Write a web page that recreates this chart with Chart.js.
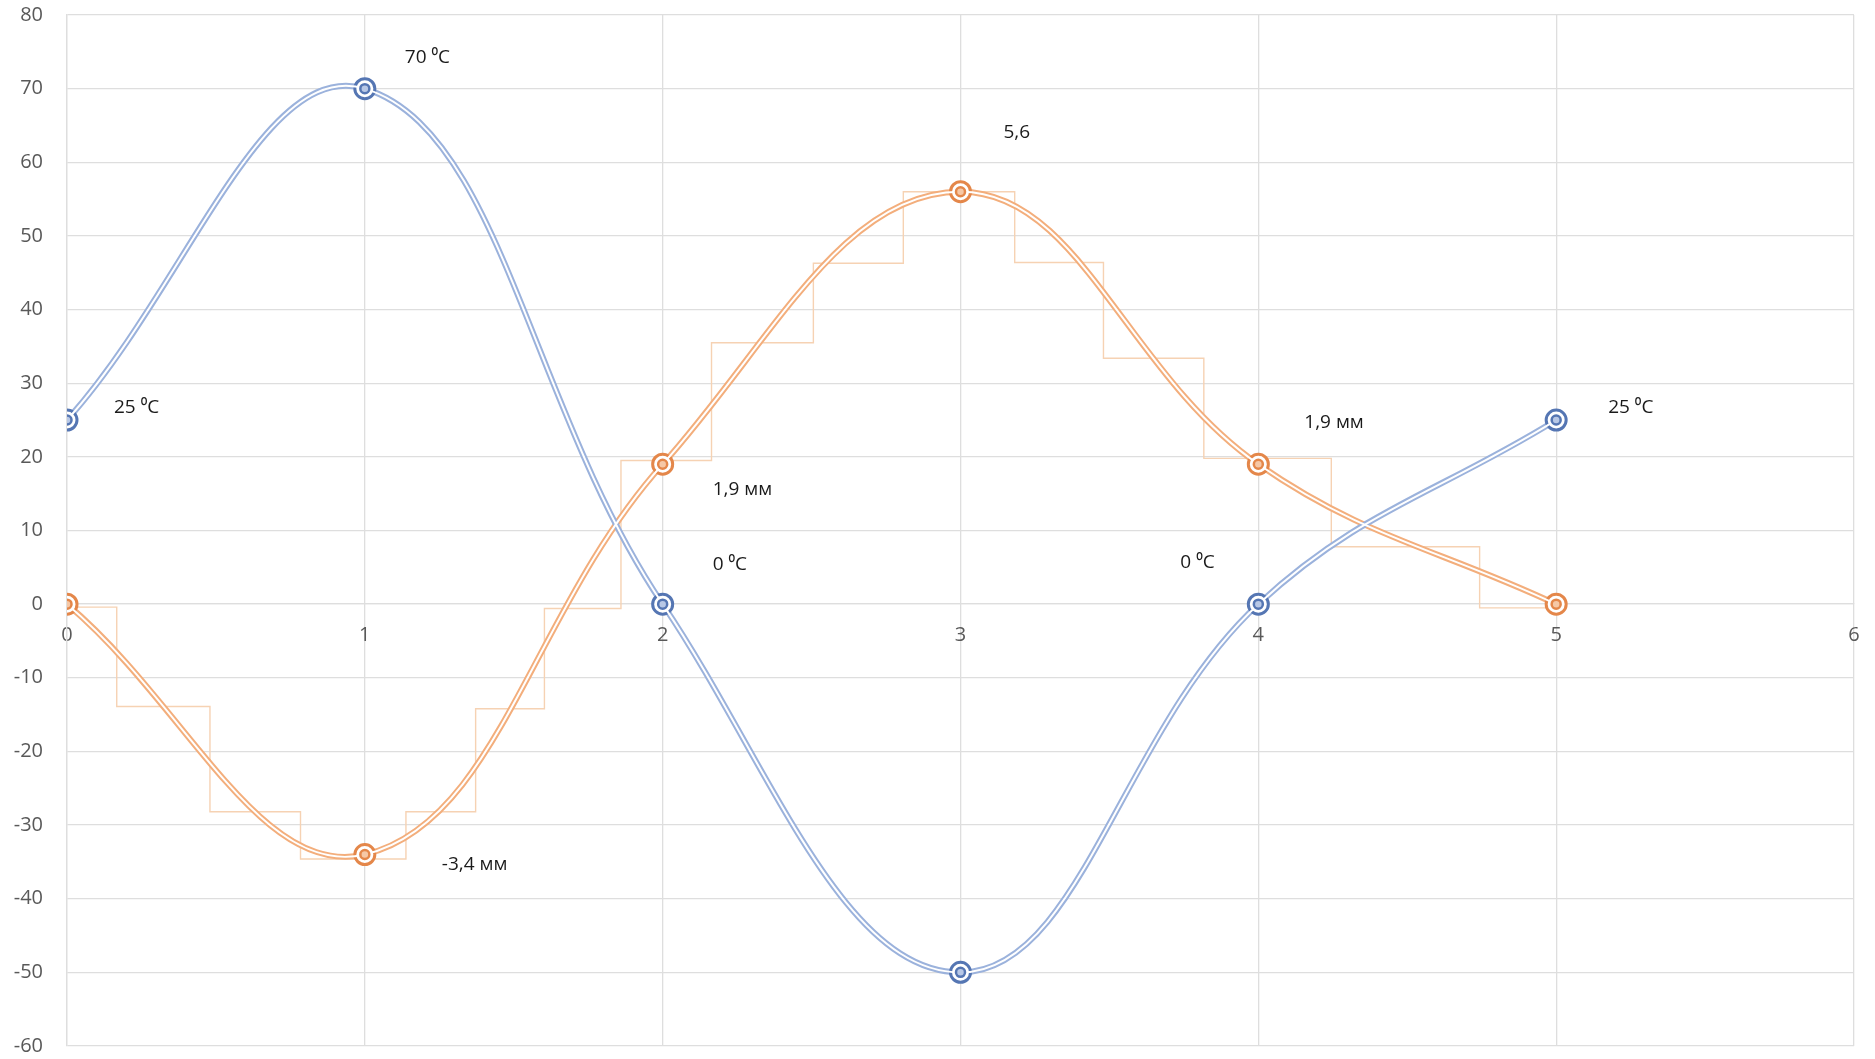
<!DOCTYPE html>
<html>
<head>
<meta charset="utf-8">
<script src="https://cdn.jsdelivr.net/npm/chart.js@4"></script>
<style>
    html, body { margin: 0; padding: 0; background: #ffffff; }
    #wrap { width: 1875px; height: 1059px; }
</style>
</head>
<body>
<div id="wrap"><canvas id="chart"></canvas></div>
<script>
// x positions of the points
var xValues = [0, 1, 2, 3, 4, 5];
// temperature series (blue)
var tempValues = [25, 70, 0, -50, 0, 25];
var tempLabels = ['25 \u2070C', '70 \u2070C', '0 \u2070C', '', '0 \u2070C', '25 \u2070C'];
// displacement series (orange)
var dispValues = [0, -34, 19, 56, 19, 0];
var dispLabels = ['', '-3,4 мм', '1,9 мм', '5,6', '1,9 мм', ''];
// stepped approximation of the orange curve
var stepX = [0, 0.167, 0.48, 0.784, 1.138, 1.372, 1.603, 1.86, 2.164, 2.506, 2.808, 3.182, 3.48, 3.817, 4.245, 4.743, 5.0];
var stepY = [-0.4, -13.9, -28.2, -34.6, -28.2, -14.2, -0.6, 19.5, 35.5, 46.3, 56.0, 46.4, 33.4, 19.8, 7.8, -0.5, -0.5];

// label offsets in pixels from the point
var tempOffsets = [[47, -12], [40, -31], [50, -40], [0, 0], [-78, -42], [52, -12]];
var dispOffsets = [[0, 0], [77, 10], [50, 25], [43, -59], [46, -42], [0, 0]];

function toPoints(xs, ys) {
    return xs.map(function (x, i) { return {x: x, y: ys[i]}; });
}

var blueLine = '#9bb2dc', blueDark = '#5576b3';
var orangeLine = '#f3ae7c', orangeDark = '#e4874a';

const labelPlugin = {
    id: 'pointLabels',
    afterDatasetsDraw: function (chart) {
        const ctx = chart.ctx;
        const xs = chart.scales.x, ys = chart.scales.y;
        ctx.save();
        ctx.font = '19px "Open Sans", "DejaVu Sans", sans-serif';
        ctx.fillStyle = '#1a1a1a';
        ctx.textAlign = 'left';
        ctx.textBaseline = 'middle';
        function draw(vals, labels, offs) {
            for (let i = 0; i < vals.length; i++) {
                if (!labels[i]) continue;
                ctx.fillText(labels[i], xs.getPixelForValue(xValues[i]) + offs[i][0], ys.getPixelForValue(vals[i]) + offs[i][1]);
            }
        }
        draw(tempValues, tempLabels, tempOffsets);
        draw(dispValues, dispLabels, dispOffsets);
        ctx.restore();
    }
};

const ctx = document.getElementById('chart').getContext('2d');
const myChart = new Chart(ctx, {
    type: 'line',
    data: {
        datasets: [
            {   // inner white stroke + inner marker ring (temperature)
                data: toPoints(xValues, tempValues),
                borderColor: '#ffffff',
                borderWidth: 2,
                tension: 0.4,
                pointRadius: 4.5,
                pointBorderWidth: 2.5,
                pointBorderColor: blueDark,
                pointBackgroundColor: '#b8c8e6',
                order: 0
            },
            {   // inner white stroke + inner marker ring (displacement)
                data: toPoints(xValues, dispValues),
                borderColor: '#ffffff',
                borderWidth: 2,
                tension: 0.4,
                pointRadius: 4.5,
                pointBorderWidth: 2.5,
                pointBorderColor: orangeDark,
                pointBackgroundColor: '#f6c8a6',
                order: 0
            },
            {
                data: toPoints(xValues, tempValues),
                borderColor: blueLine,
                borderWidth: 6,
                tension: 0.4,
                pointRadius: 10,
                pointBorderWidth: 3,
                pointBorderColor: blueDark,
                pointBackgroundColor: '#ffffff',
                order: 1
            },
            {
                data: toPoints(xValues, dispValues),
                borderColor: orangeLine,
                borderWidth: 6,
                tension: 0.4,
                pointRadius: 10,
                pointBorderWidth: 3,
                pointBorderColor: orangeDark,
                pointBackgroundColor: '#ffffff',
                order: 1
            },
            {
                data: toPoints(stepX, stepY),
                borderColor: '#f6d2b3',
                borderWidth: 1.4,
                stepped: 'before',
                pointRadius: 0,
                order: 2
            }
        ]
    },
    options: {
        responsive: true,
        maintainAspectRatio: false,
        animation: false,
        layout: { padding: { left: 0, top: 15, right: 21, bottom: 11 } },
        plugins: {
            legend: { display: false },
            tooltip: { enabled: false }
        },
        scales: {
            x: {
                type: 'linear',
                position: { y: 0 },
                min: 0,
                max: 6,
                ticks: {
                    stepSize: 1,
                    padding: 0,
                    color: '#595959',
                    font: { size: 20, family: '"Open Sans", sans-serif' }
                },
                grid: { color: '#dedede', lineWidth: 1.3, drawTicks: true, tickLength: 19, tickColor: 'rgba(0,0,0,0)' },
                border: { color: '#dedede', width: 1.3 }
            },
            y: {
                min: -60,
                max: 80,
                afterFit: function (scale) { scale.width = 67; },
                ticks: {
                    stepSize: 10,
                    padding: 0,
                    color: '#595959',
                    font: { size: 20, family: '"Open Sans", sans-serif' }
                },
                grid: { color: '#dedede', lineWidth: 1.3, drawTicks: true, tickLength: 24, tickColor: 'rgba(0,0,0,0)' },
                border: { color: '#dedede', width: 1.3 }
            }
        }
    },
    plugins: [labelPlugin]
});
</script>
</body>
</html>
